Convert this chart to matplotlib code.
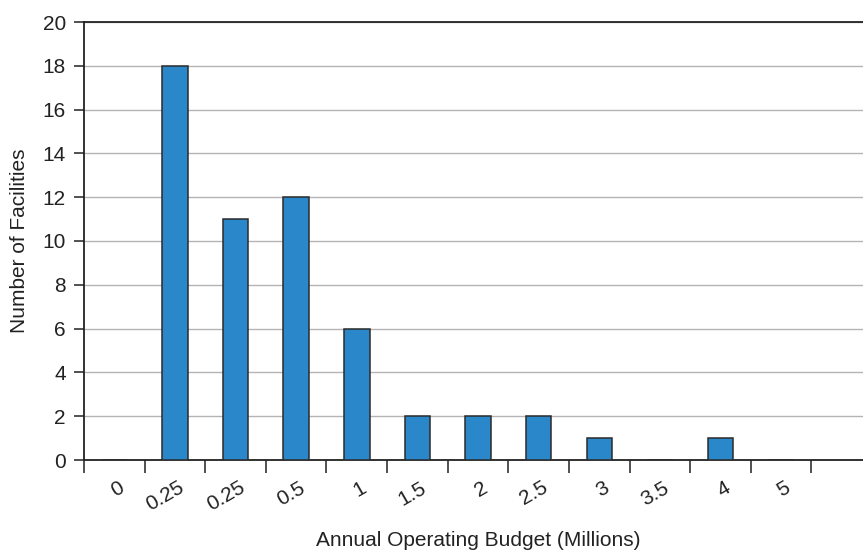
import numpy as np
import matplotlib.pyplot as plt

plt.rcParams['font.family'] = ['Liberation Sans', 'DejaVu Sans']

# budget bins (millions) and facility counts
budget_labels = ['0', '0.25', '0.25', '0.5', '1', '1.5', '2', '2.5', '3', '3.5', '4', '5']
facilities = [0, 18, 11, 12, 6, 2, 2, 2, 1, 0, 1, 0]

x = np.arange(len(budget_labels))

fig = plt.figure(figsize=(8.63, 5.54), dpi=100)
ax = fig.add_axes([84 / 863, 1 - 460 / 554, 1 - 84 / 863, (460 - 22) / 554])

ax.bar(x, facilities, width=0.42, color='#2a87c9', edgecolor='#2b2b2b', linewidth=1.1, zorder=3)

ax.set_xlim(-0.5, 12.35)
ax.set_ylim(0, 20)
ax.set_yticks(range(0, 21, 2))
ax.yaxis.grid(True, color='#b4b4b4', linewidth=1.0, zorder=0)

# tick marks sit between categories, labels sit under the bars
ax.set_xticks(np.arange(-0.5, 12, 1.0))
ax.set_xticklabels([])
ax.set_xticks(x + 0.05, minor=True)
ax.set_xticklabels(budget_labels, minor=True, rotation=30, ha='right',
                   rotation_mode='anchor', fontsize=15, color='#222222')
ax.tick_params(axis='x', which='major', length=9, width=1.1, color='#222222', direction='out')
ax.tick_params(axis='x', which='minor', length=0, pad=13)
ax.tick_params(axis='y', length=7, width=1.1, color='#222222', labelsize=15,
               labelcolor='#222222', pad=6)

for side in ['left', 'bottom', 'top']:
    ax.spines[side].set_color('#222222')
    ax.spines[side].set_linewidth(1.3)
ax.spines['right'].set_visible(False)

ax.set_ylabel('Number of Facilities', fontsize=15, color='#222222', labelpad=10)
fig.text(478 / 863, 1 - 540 / 554, 'Annual Operating Budget (Millions)', fontsize=15,
         color='#222222', ha='center', va='center')

fig.savefig('out.png', dpi=100)
